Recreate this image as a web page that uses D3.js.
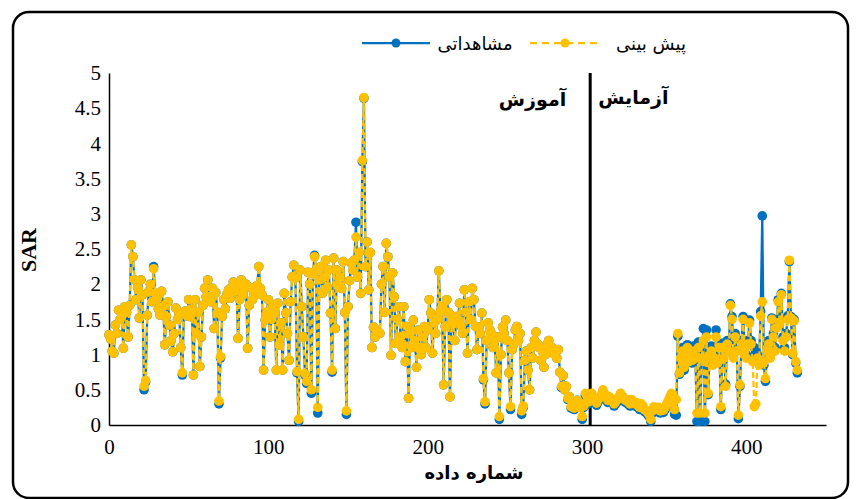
<!DOCTYPE html>
<html>
<head>
<meta charset="utf-8">
<script src="https://cdn.jsdelivr.net/npm/d3@7"></script>
<style>
  body { margin: 0; background: #fff; }
</style>
</head>
<body>
<script>
const observed = [
  1.28,1.22,1.05,1.02,1.42,1.3,1.63,1.5,1.55,1.09,
  1.68,1.6,1.25,1.7,2.56,2.39,2.06,1.78,1.95,1.52,
  2.06,1.85,0.5,0.61,1.56,1.9,2.0,1.75,2.25,1.87,
  1.78,1.65,1.56,1.9,1.68,1.14,1.54,1.75,1.42,1.2,
  1.04,1.3,1.66,1.5,1.6,1.1,0.71,1.59,1.62,1.55,
  1.78,1.54,1.65,0.71,1.78,1.3,1.6,0.83,1.25,1.7,
  1.94,1.82,2.06,1.82,1.75,1.94,1.37,1.88,1.6,0.3,
  0.95,1.54,1.78,1.65,1.85,1.92,1.8,1.95,2.03,1.9,
  1.98,1.23,1.78,2.06,1.85,1.95,2.0,1.09,1.7,1.95,
  1.78,1.9,1.85,1.98,2.25,1.94,1.85,0.78,1.49,1.6,
  1.78,1.25,1.5,1.7,1.6,0.78,1.73,1.14,1.45,0.78,
  1.87,1.59,1.3,0.92,1.75,2.1,2.27,2.09,0.74,0.05,
  2.2,1.68,1.25,0.71,0.59,2.17,2.0,0.45,2.15,2.41,
  2.2,0.17,2.06,2.25,1.87,2.1,2.34,1.95,2.2,1.59,
  0.75,2.37,1.37,2.2,2.0,2.1,1.94,2.32,1.6,0.15,
  1.68,2.05,2.3,2.2,2.34,2.88,2.1,2.45,1.87,3.74,
  4.64,2.25,2.6,1.92,2.45,1.1,1.39,1.25,1.35,1.3,
  1.3,2.0,2.25,1.6,2.58,2.39,2.1,0.99,2.16,1.82,
  1.16,1.5,1.68,1.25,1.1,1.68,0.9,1.4,0.38,1.3,
  1.1,1.49,1.2,0.82,1.35,1.1,1.0,1.25,1.4,1.1,
  1.35,1.78,1.59,1.02,1.45,1.3,1.5,2.19,1.6,1.68,
  0.57,1.4,1.78,1.6,0.4,1.55,1.45,1.2,1.54,1.5,
  1.73,1.4,1.3,1.92,1.6,1.02,1.75,1.5,1.94,1.78,
  1.4,1.07,1.39,1.3,1.59,0.64,0.3,1.2,1.45,1.35,
  1.3,1.1,1.2,0.74,1.25,0.08,1.0,1.39,1.3,1.49,
  1.2,0.74,0.22,1.07,1.15,1.35,1.4,1.2,1.3,0.15,
  0.25,0.92,1.05,0.78,0.5,1.1,0.95,1.2,1.32,1.15,
  1.1,0.92,1.05,0.82,1.0,1.15,1.2,1.05,1.1,1.02,
  1.07,0.95,1.07,0.75,0.53,0.7,0.5,0.55,0.36,0.4,
  0.24,0.3,0.22,0.28,0.35,0.25,0.31,0.08,0.25,0.42,
  0.38,0.3,0.33,0.42,0.36,0.33,0.28,0.33,0.36,0.4,
  0.47,0.42,0.37,0.32,0.37,0.35,0.33,0.27,0.3,0.33,
  0.37,0.42,0.39,0.35,0.32,0.33,0.29,0.27,0.33,0.3,
  0.27,0.29,0.25,0.22,0.27,0.24,0.19,0.18,0.15,0.12,
  0.05,0.17,0.23,0.21,0.19,0.22,0.17,0.2,0.18,0.22,
  0.27,0.32,0.37,0.42,0.28,0.15,0.14,1.26,0.72,1.0,
  1.1,0.78,1.05,1.14,0.92,1.0,0.88,1.12,1.0,0.05,
  1.18,0.05,1.0,1.37,0.05,1.35,0.43,1.0,1.12,0.9,
  1.0,1.35,0.9,1.15,0.22,1.16,1.0,0.58,1.2,1.1,
  1.72,1.54,1.0,1.3,1.1,0.09,0.55,1.2,1.54,1.1,
  1.0,1.2,1.49,1.2,0.95,1.1,1.05,1.0,0.9,1.61,
  2.97,0.85,0.62,1.1,1.2,1.0,1.52,1.3,1.1,1.4,
  1.78,1.5,1.87,1.25,1.1,1.3,1.55,2.32,1.54,1.0,
  1.5,0.88,0.74
];

const predicted = [
  1.28,1.22,1.05,1.02,1.42,1.3,1.63,1.5,1.55,1.09,
  1.68,1.6,1.25,1.7,2.56,2.39,2.06,1.78,1.95,1.52,
  2.06,1.85,0.55,0.63,1.56,1.9,2.0,1.75,2.22,1.87,
  1.78,1.65,1.56,1.9,1.68,1.14,1.54,1.75,1.42,1.2,
  1.04,1.3,1.66,1.5,1.6,1.1,0.74,1.59,1.62,1.55,
  1.78,1.54,1.65,0.71,1.78,1.3,1.6,0.83,1.25,1.7,
  1.94,1.82,2.06,1.82,1.75,1.94,1.37,1.88,1.6,0.34,
  0.97,1.54,1.78,1.65,1.85,1.92,1.8,1.95,2.03,1.9,
  1.98,1.23,1.78,2.06,1.85,1.95,2.0,1.09,1.7,1.95,
  1.78,1.9,1.85,1.98,2.25,1.94,1.85,0.78,1.49,1.6,
  1.78,1.25,1.5,1.7,1.6,0.78,1.73,1.14,1.45,0.78,
  1.87,1.59,1.3,0.92,1.75,2.1,2.27,2.09,0.76,0.08,
  2.2,1.68,1.25,0.73,0.62,2.17,2.0,0.5,2.15,2.39,
  2.2,0.25,2.06,2.25,1.87,2.1,2.34,1.95,2.2,1.59,
  0.78,2.37,1.37,2.2,2.0,2.1,1.94,2.32,1.6,0.2,
  1.68,2.05,2.3,2.2,2.34,2.67,2.1,2.45,1.87,3.76,
  4.65,2.25,2.6,1.92,2.45,1.1,1.39,1.25,1.35,1.3,
  1.3,2.0,2.25,1.6,2.58,2.39,2.1,0.99,2.16,1.82,
  1.16,1.5,1.68,1.25,1.1,1.68,0.9,1.4,0.38,1.3,
  1.1,1.49,1.2,0.82,1.35,1.1,1.0,1.25,1.4,1.1,
  1.35,1.78,1.59,1.02,1.45,1.3,1.5,2.19,1.6,1.68,
  0.57,1.4,1.78,1.6,0.4,1.55,1.45,1.2,1.54,1.5,
  1.73,1.4,1.3,1.92,1.6,1.02,1.75,1.5,1.94,1.78,
  1.4,1.07,1.39,1.3,1.59,0.66,0.33,1.2,1.45,1.35,
  1.3,1.1,1.2,0.74,1.25,0.12,1.0,1.39,1.3,1.49,
  1.2,0.74,0.26,1.07,1.15,1.35,1.4,1.2,1.3,0.2,
  0.27,0.92,1.05,0.78,0.5,1.1,0.95,1.2,1.32,1.15,
  1.1,0.92,1.05,0.82,1.0,1.15,1.2,1.05,1.1,1.02,
  1.07,0.95,1.07,0.75,0.55,0.7,0.5,0.55,0.38,0.4,
  0.26,0.3,0.24,0.28,0.35,0.25,0.31,0.12,0.27,0.45,
  0.41,0.33,0.36,0.45,0.39,0.36,0.31,0.36,0.39,0.43,
  0.5,0.45,0.4,0.35,0.4,0.38,0.36,0.3,0.33,0.36,
  0.4,0.45,0.42,0.38,0.35,0.36,0.32,0.3,0.36,0.33,
  0.3,0.32,0.28,0.25,0.3,0.27,0.22,0.21,0.18,0.15,
  0.08,0.2,0.26,0.24,0.22,0.25,0.2,0.23,0.21,0.25,
  0.3,0.35,0.4,0.45,0.31,0.22,0.36,1.3,0.74,0.95,
  1.05,0.82,1.0,1.1,0.9,0.95,0.92,1.05,0.95,0.17,
  1.1,0.17,0.95,1.2,0.17,1.25,0.45,0.95,1.05,0.85,
  0.95,1.25,0.88,1.1,0.26,1.1,0.95,0.55,1.15,1.05,
  1.7,1.5,0.95,1.25,1.05,0.14,0.57,1.15,1.5,1.05,
  0.95,1.15,1.45,1.15,0.9,0.26,0.3,0.95,0.85,1.55,
  1.75,0.9,0.66,1.05,1.15,0.95,1.5,1.25,1.05,1.38,
  1.75,1.45,1.85,1.2,1.05,1.25,1.5,2.34,1.52,1.02,
  1.48,0.9,0.78
];

const yTicks = [0, 0.5, 1, 1.5, 2, 2.5, 3, 3.5, 4, 4.5, 5];
const xTicks = [0, 100, 200, 300, 400];
const splitAt = 302;
const seriesNames = ["مشاهداتی", "پیش بینی"];
const phaseNames = ["آموزش", "آزمایش"];
const xTitle = "شماره داده";
const yTitle = "SAR";

const blue = "#0070C0";
const gold = "#FFC000";

const viz = () => {
  const width = 860;
  const height = 499;

  const svg = d3
    .select("body")
    .append("svg")
    .attr("width", width)
    .attr("height", height);

  svg
    .append("rect")
    .attr("x", 13)
    .attr("y", 12)
    .attr("width", 835)
    .attr("height", 486)
    .attr("rx", 16)
    .attr("fill", "#fff")
    .attr("stroke", "#000")
    .attr("stroke-width", 2.5);

  const x = d3.scaleLinear().domain([0, 450]).range([109, 826]);
  const y = d3.scaleLinear().domain([0, 5]).range([425, 73]);

  const serif = "'Liberation Serif', 'Times New Roman', serif";
  const persian = "'DejaVu Sans', sans-serif";

  // axes
  const gy = svg
    .append("g")
    .attr("transform", `translate(${x(0)},0)`)
    .call(d3.axisLeft(y).tickValues(yTicks).tickFormat(d3.format("~g")).tickSize(0).tickPadding(8));
  gy.select(".domain").attr("stroke", "#000").attr("stroke-width", 1.5);
  gy.selectAll("text").attr("font-family", serif).attr("font-size", 21).attr("fill", "#000");

  const gx = svg
    .append("g")
    .attr("transform", `translate(0,${y(0)})`)
    .call(d3.axisBottom(x).tickValues(xTicks).tickSize(0).tickPadding(14));
  gx.select(".domain").attr("stroke", "#000").attr("stroke-width", 1.5);
  gx.selectAll("text").attr("font-family", serif).attr("font-size", 21).attr("fill", "#000");

  svg
    .append("text")
    .attr("transform", `translate(36,250) rotate(-90)`)
    .attr("text-anchor", "middle")
    .attr("font-family", serif)
    .attr("font-weight", "bold")
    .attr("font-size", 22)
    .text(yTitle);

  svg
    .append("text")
    .attr("x", 474)
    .attr("y", 479)
    .attr("text-anchor", "middle")
    .attr("font-family", persian)
    .attr("font-weight", "bold")
    .attr("font-size", 18)
    .text(xTitle);

  // train / test divider
  svg
    .append("line")
    .attr("x1", x(splitAt))
    .attr("x2", x(splitAt))
    .attr("y1", y(5))
    .attr("y2", y(0))
    .attr("stroke", "#000")
    .attr("stroke-width", 3);

  svg
    .append("text")
    .attr("x", x(splitAt) - 24)
    .attr("y", 106)
    .attr("text-anchor", "end")
    .attr("font-family", persian)
    .attr("font-weight", "bold")
    .attr("font-size", 19)
    .text(phaseNames[0]);

  svg
    .append("text")
    .attr("x", x(splitAt) + 8)
    .attr("y", 104)
    .attr("text-anchor", "start")
    .attr("font-family", persian)
    .attr("font-weight", "bold")
    .attr("font-size", 19)
    .text(phaseNames[1]);

  // series
  const line = d3
    .line()
    .x((d, i) => x(i))
    .y((d) => y(d));

  svg
    .append("path")
    .datum(observed)
    .attr("d", line)
    .attr("fill", "none")
    .attr("stroke", blue)
    .attr("stroke-width", 2.25);

  svg
    .append("g")
    .selectAll("circle")
    .data(observed)
    .enter()
    .append("circle")
    .attr("cx", (d, i) => x(i))
    .attr("cy", (d) => y(d))
    .attr("r", 4.8)
    .attr("fill", blue);

  svg
    .append("path")
    .datum(predicted)
    .attr("d", line)
    .attr("fill", "none")
    .attr("stroke", gold)
    .attr("stroke-width", 2.25)
    .attr("stroke-dasharray", "6,3");

  svg
    .append("g")
    .selectAll("circle")
    .data(predicted)
    .enter()
    .append("circle")
    .attr("cx", (d, i) => x(i))
    .attr("cy", (d) => y(d))
    .attr("r", 4.8)
    .attr("fill", gold);

  // legend
  const legend = [
    { name: seriesNames[0], color: blue, dash: null, x0: 362, x1: 430, tx: 475 },
    { name: seriesNames[1], color: gold, dash: "7,5", x0: 530, x1: 600, tx: 651 },
  ];

  const lg = svg.append("g").selectAll("g").data(legend).enter().append("g");
  lg.append("line")
    .attr("x1", (d) => d.x0)
    .attr("x2", (d) => d.x1)
    .attr("y1", 43)
    .attr("y2", 43)
    .attr("stroke", (d) => d.color)
    .attr("stroke-width", 2.25)
    .attr("stroke-dasharray", (d) => d.dash);
  lg.append("circle")
    .attr("cx", (d) => (d.x0 + d.x1) / 2)
    .attr("cy", 43)
    .attr("r", 4.5)
    .attr("fill", (d) => d.color);
  lg.append("text")
    .attr("x", (d) => d.tx)
    .attr("y", 50)
    .attr("text-anchor", "middle")
    .attr("font-family", persian)
    .attr("font-size", 18)
    .text((d) => d.name);
};

viz();
</script>
</body>
</html>
